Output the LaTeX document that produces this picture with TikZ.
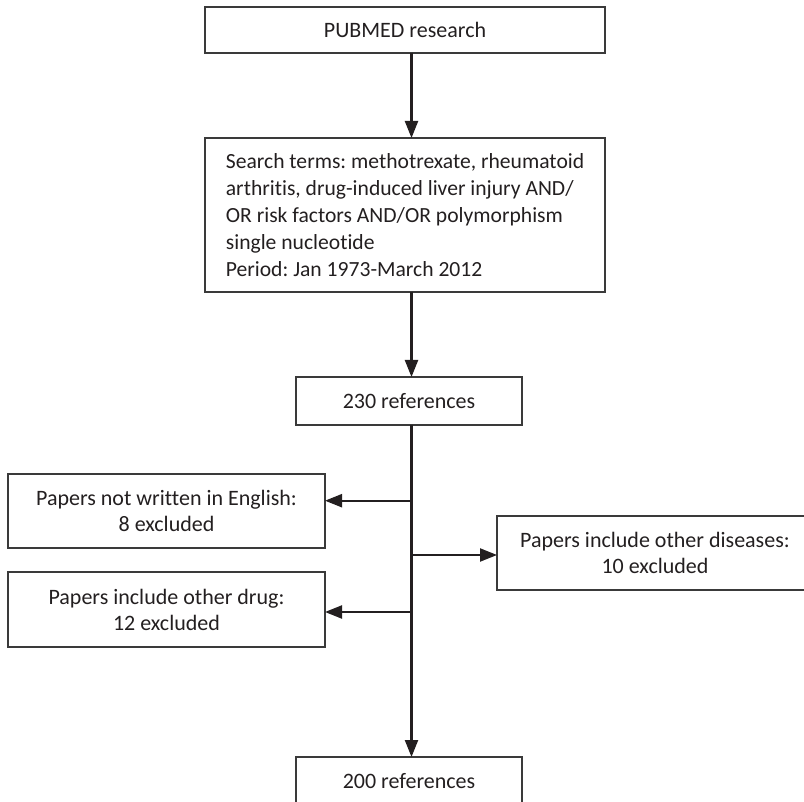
\documentclass[tikz,border=0pt]{standalone}
\usepackage{fontspec}
\setmainfont{Carlito}[Ligatures={NoCommon}]
\frenchspacing
\usetikzlibrary{arrows.meta}
\definecolor{boxgray}{HTML}{3A3A3A}
\definecolor{txt}{HTML}{231F20}
\definecolor{arrgray}{HTML}{231F20}
\begin{document}
\begin{tikzpicture}[x=1pt,y=-1pt,
  box/.style={draw=boxgray,line width=1.3pt,inner sep=0pt,outer sep=0pt,align=center,
    font=\fontsize{22}{26}\selectfont,text=txt},
  arr/.style={line width=2.2pt,draw=arrgray,-{Triangle[length=17pt,width=13pt]}},
  ]
\useasboundingbox (0,0) rectangle (804,802);
\clip (0,0) rectangle (804,802);
\node[box,minimum width=400pt,minimum height=46pt] (pub) at (405,30) {PUBMED research};
\node[box,minimum width=400pt,minimum height=154pt,align=left,
  font=\fontsize{21.6}{27}\selectfont] (search) at (405,215)
  {Search terms: methotrexate, rheumatoid\\
   arthritis, drug-induced liver injury AND/\\
   OR risk factors AND/OR polymorphism\\
   single nucleotide\\
   Period: Jan 1973-March 2012};
\node[box,minimum width=226pt,minimum height=48pt] (r230) at (409,401) {230 references};
\node[box,minimum width=317pt,minimum height=74pt] (eng) at (166.5,511)
  {Papers not written in English:\\8 excluded};
\node[box,minimum width=316pt,minimum height=74pt] (dis) at (655,553)
  {Papers include other diseases:\\10 excluded};
\node[box,minimum width=317pt,minimum height=75pt] (drug) at (166.5,609.5)
  {Papers include other drug:\\12 excluded};
\node[box,minimum width=226pt,minimum height=48pt] (r200) at (409,781) {200 references};
\coordinate (ax) at (411.5,0);
\coordinate (y1) at (0,500.7);
\coordinate (y2) at (0,555);
\coordinate (y3) at (0,612);
\draw[arr] (pub.south -| ax) -- (search.north -| ax);
\draw[arr] (search.south -| ax) -- (r230.north -| ax);
\draw[arr] (r230.south -| ax) -- (r200.north -| ax);
\draw[arr] (ax |- y1) -- (eng.east |- y1);
\draw[arr] (ax |- y2) -- (dis.west |- y2);
\draw[arr] (ax |- y3) -- (drug.east |- y3);
\end{tikzpicture}
\end{document}
